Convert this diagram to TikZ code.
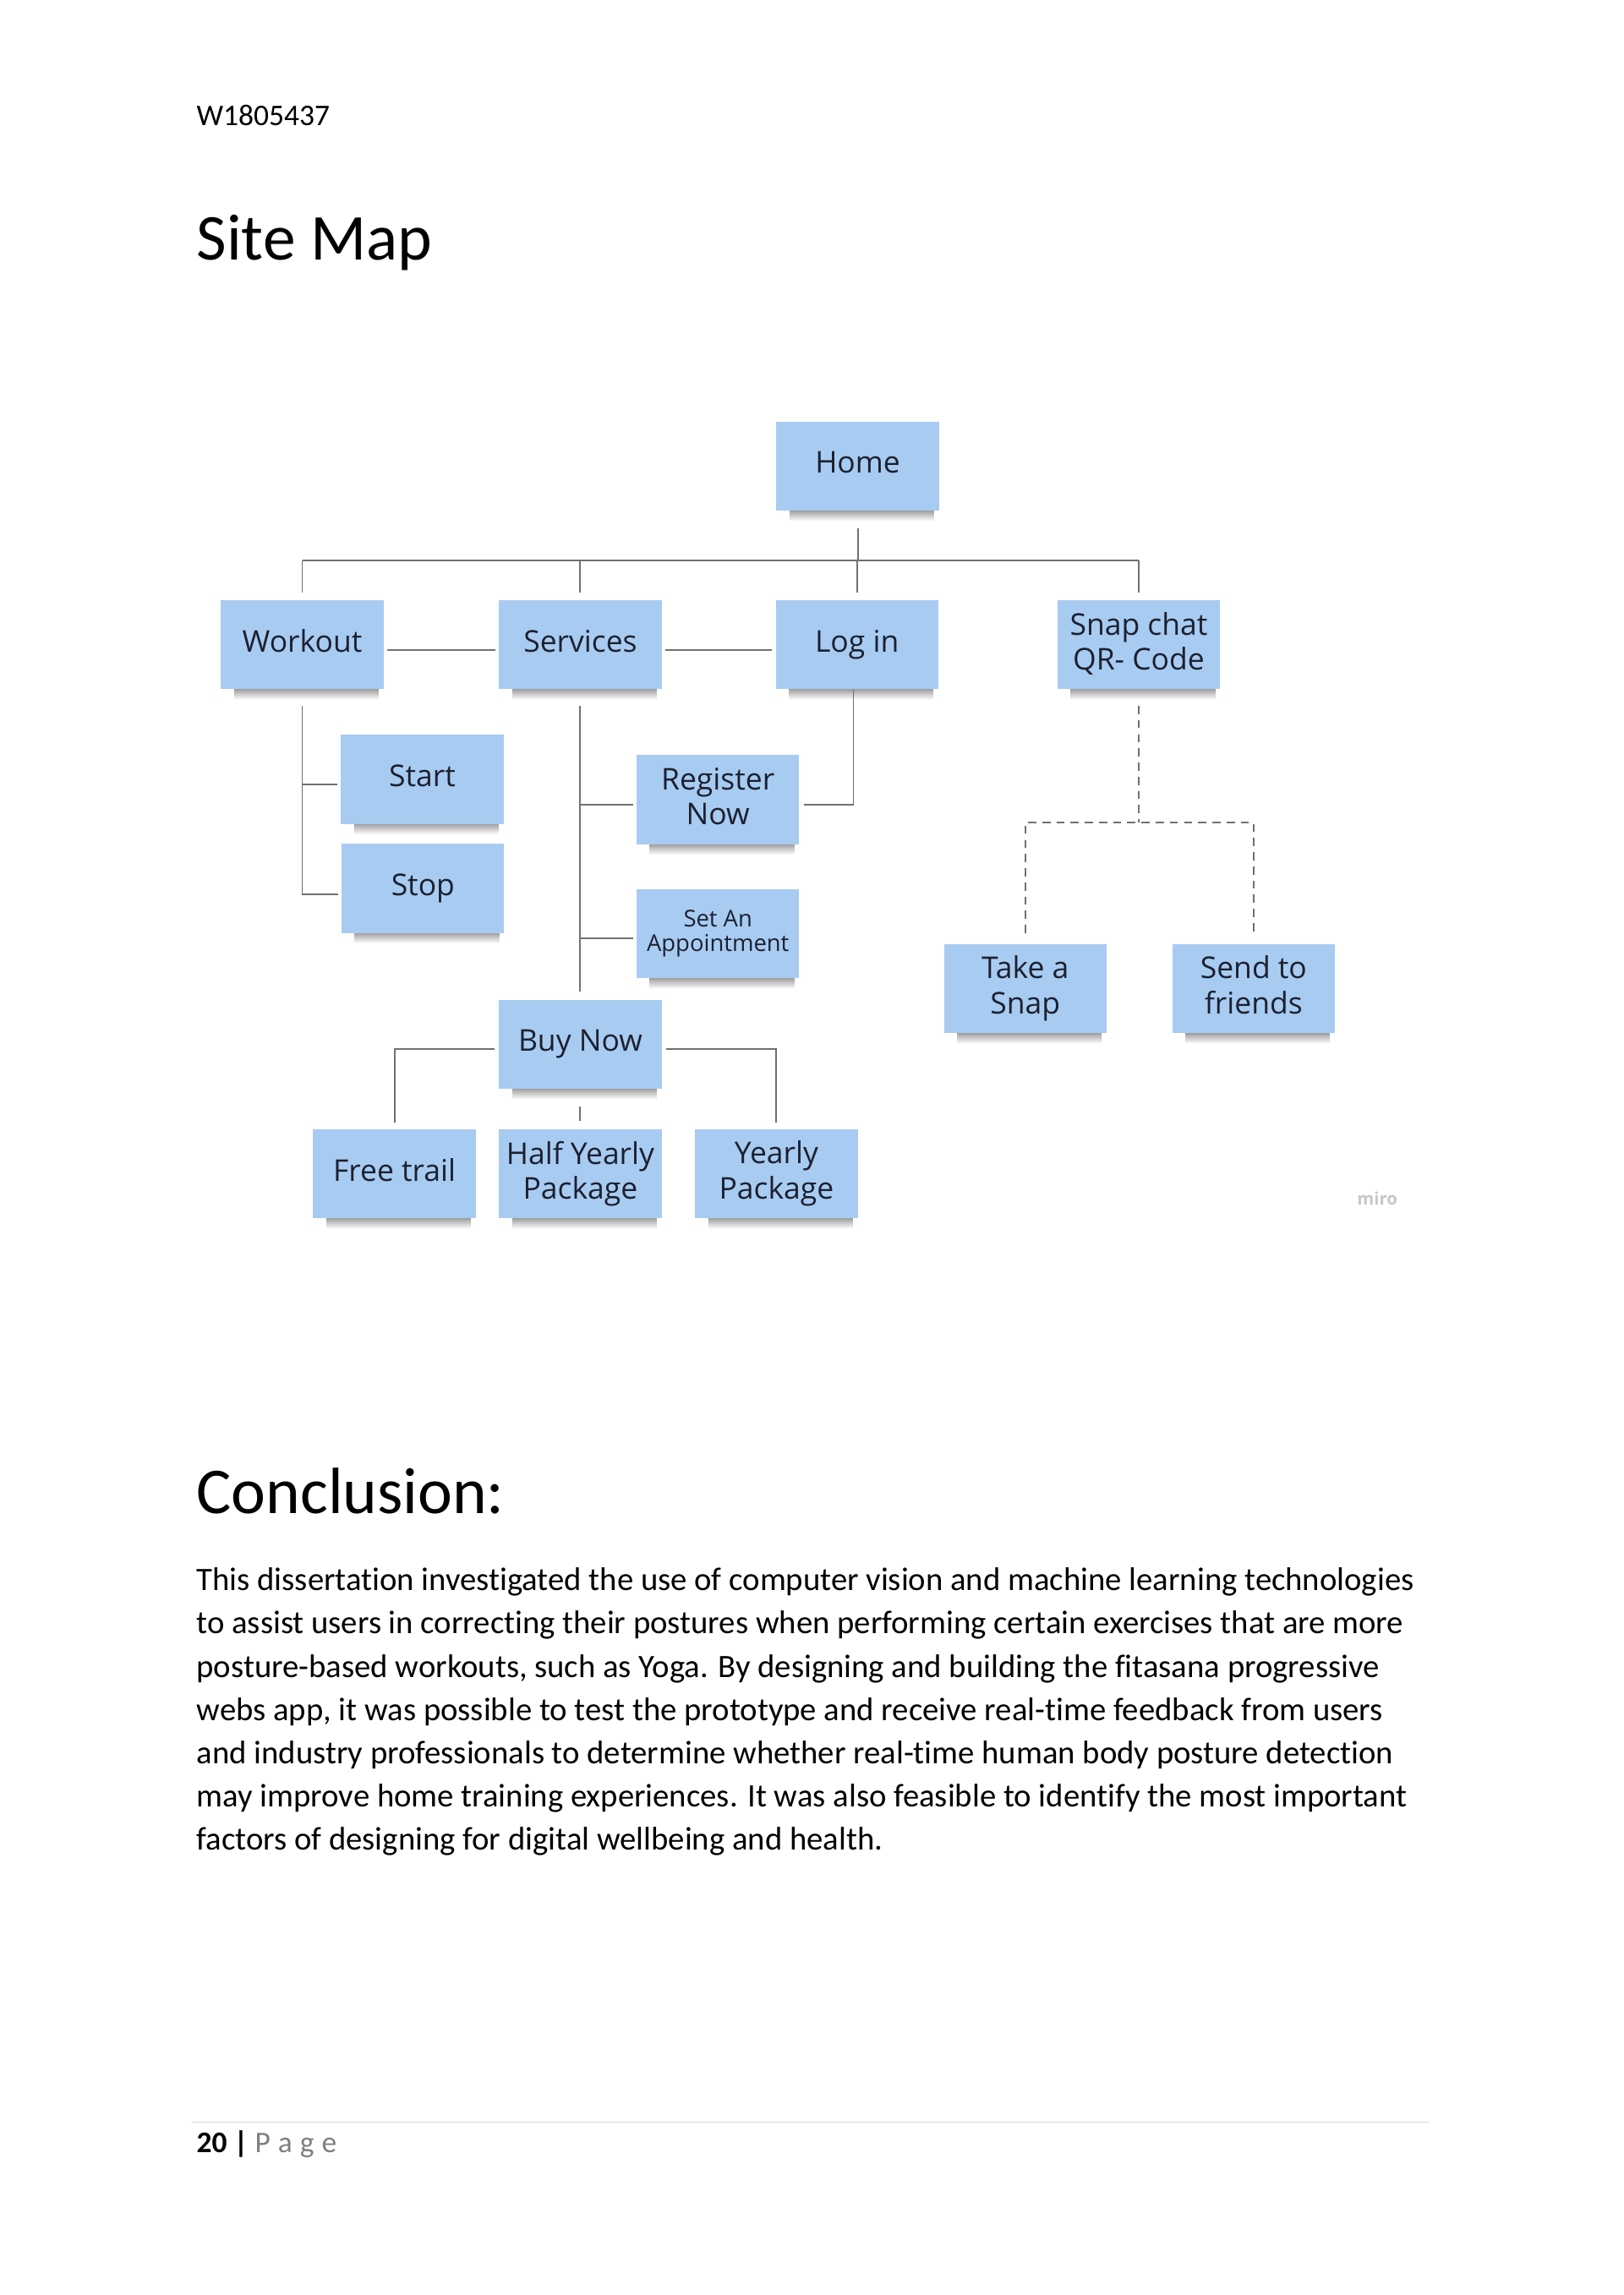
\documentclass[tikz,border=0pt]{standalone}
\usepackage{fontspec}
\setmainfont{Carlito}[Ligatures=NoCommon]
\newfontfamily\osans{Open Sans}
\usetikzlibrary{backgrounds}
\definecolor{stickyblue}{RGB}{168,203,241}
\definecolor{textnavy}{RGB}{28,32,48}
\definecolor{lineg}{RGB}{112,112,112}
\definecolor{footg}{RGB}{217,217,217}
\definecolor{pageg}{RGB}{127,127,127}
\tikzset{
  sticky/.style={fill=stickyblue, minimum width=59.6pt, minimum height=32.7pt,
    inner sep=1pt, align=center, text=textnavy, text depth=2.6pt,
    font=\osans\fontsize{11}{12.9}\selectfont},
  smallsticky/.style={sticky, text depth=2pt, font=\osans\fontsize{8.5}{9.1}\selectfont},
  conn/.style={draw=lineg, line width=0.6pt},
  dconn/.style={conn, dash pattern=on 3pt off 2.2pt},
  bodytxt/.style={anchor=base west, inner sep=0pt, font=\fontsize{12}{14}\selectfont},
  smalltxt/.style={bodytxt, font=\fontsize{11}{13}\selectfont},
}
\begin{document}
\begin{tikzpicture}[x=0.53677pt, y=-0.53677pt]
\useasboundingbox (0,0) rectangle (1109,1568.2);

% page texts
\node[smalltxt] (id) at (134,85.5) {W1805437};
\node[bodytxt, font=\fontsize{24}{28}\selectfont] (t1) at (134,177.5) {Site Map};
\node[bodytxt, font=\fontsize{24}{28}\selectfont] (t2) at (134,1034) {Conclusion:};
\node[bodytxt] (l1) at (134,1087.0) {This dissertation investigated the use of computer vision and machine learning technologies};
\node[bodytxt] (l2) at (134,1116.5) {to assist users in correcting their postures when performing certain exercises that are more};
\node[bodytxt] (l3) at (134,1146.0) {posture-based workouts, such as Yoga. By designing and building the fitasana progressive};
\node[bodytxt] (l4) at (134,1175.5) {webs app, it was possible to test the prototype and receive real-time feedback from users};
\node[bodytxt] (l5) at (134,1205.0) {and industry professionals to determine whether real-time human body posture detection};
\node[bodytxt] (l6) at (134,1234.5) {may improve home training experiences. It was also feasible to identify the most important};
\node[bodytxt] (l7) at (134,1264.0) {factors of designing for digital wellbeing and health.};

% footer
\coordinate (fl) at (131,1450);
\coordinate (fr) at (977,1450);
\draw[footg, line width=0.5pt] (fl) -- (fr);
\node[smalltxt] (foot) at (134,1471) {\textbf{20 |} {\color{pageg}P\hspace{2.8pt}a\hspace{2.8pt}g\hspace{2.8pt}e}};

% watermark
\node[font=\osans\bfseries\fontsize{6.3}{7}\selectfont, text=black!22, inner sep=0pt] (miro) at (941,819) {miro};

% sticky notes
\node[sticky] (Home) at (586,318.5) {Home};
\node[sticky] (Workout) at (206.5,440.5) {Workout};
\node[sticky] (Services) at (396.5,440.5) {Services};
\node[sticky] (Login) at (585.5,440.5) {Log in};
\node[sticky] (Snap) at (778,440.5) {Snap chat\\QR- Code};
\node[sticky] (Start) at (288.5,532.5) {Start};
\node[sticky] (Stop) at (289,607) {Stop};
\node[sticky] (Register) at (490.5,546.5) {Register\\Now};
\node[smallsticky] (Appt) at (490.5,638) {Set An\\Appointment};
\node[sticky] (BuyNow) at (396.5,713.5) {Buy Now};
\node[sticky] (Free) at (269.5,802) {Free trail};
\node[sticky] (Half) at (396.5,802) {Half Yearly\\Package};
\node[sticky] (Yearly) at (530.5,802) {Yearly\\Package};
\node[sticky] (TakeSnap) at (700.5,675.5) {Take a\\Snap};
\node[sticky] (Send) at (856.5,675.5) {Send to\\friends};

% shadows
\begin{scope}[on background layer]
\fill[white] (0,0) rectangle (1109,1568.2);
\foreach \n in {Home,Workout,Services,Login,Snap,Start,Stop,Register,Appt,BuyNow,Free,Half,Yearly,TakeSnap,Send}{
  \shade[top color=black!40, bottom color=white]
    ([xshift=5pt,yshift=0.5pt]\n.south west) rectangle ([xshift=-2pt,yshift=-3.6pt]\n.south east);
}
\end{scope}

% connectors: top level
\coordinate (bus) at (586,383);
\draw[conn] ([yshift=-6.4pt]Home.south) -- (Home.south |- bus);
\draw[conn] (Workout.north |- bus) -- (Snap.north |- bus);
\foreach \n in {Workout,Services,Login,Snap}
  \draw[conn] (\n.north |- bus) -- ([yshift=2.7pt]\n.north);
\draw[conn] ([xshift=1.3pt,yshift=-1.9pt]Workout.east) -- ([xshift=-1.3pt,yshift=-1.9pt]Services.west);
\draw[conn] ([xshift=1.3pt,yshift=-1.9pt]Services.east) -- ([xshift=-1.3pt,yshift=-1.9pt]Login.west);

% workout branch
\draw[conn] ([yshift=-5.9pt]Workout.south) |- ([xshift=-1.1pt,yshift=-1.9pt]Start.west);
\draw[conn] ([yshift=-5.9pt]Workout.south) |- ([xshift=-1.1pt,yshift=-2.1pt]Stop.west);

% services branch
\draw[conn] ([yshift=-5.9pt]Services.south) -- ([yshift=2.7pt]BuyNow.north);
\draw[conn] ([yshift=-5.9pt]Services.south) |- ([xshift=-1.1pt,yshift=-1.9pt]Register.west);
\draw[conn] ([yshift=-5.9pt]Services.south) |- ([xshift=-1.1pt,yshift=-1.6pt]Appt.west);

% login branch
\draw[conn] ([xshift=-1.3pt]Login.south) |- ([xshift=1.6pt,yshift=-1.9pt]Register.east);

% buy now branch
\draw[conn] ([xshift=-1.5pt,yshift=-1.9pt]BuyNow.west) -| ([yshift=2.2pt]Free.north);
\draw[conn] ([xshift=1.5pt,yshift=-1.9pt]BuyNow.east) -| ([yshift=2.2pt]Yearly.north);
\draw[conn] ([yshift=-6.4pt]BuyNow.south) -- ([yshift=2.7pt]Half.north);

% snap chat branch (dashed)
\coordinate (snapj) at (778,562);
\draw[dconn] ([yshift=-5.9pt]Snap.south) -- (snapj);
\draw[dconn] ([yshift=3.8pt]TakeSnap.north) |- (snapj) -| ([yshift=3.8pt]Send.north);
\end{tikzpicture}
\end{document}
